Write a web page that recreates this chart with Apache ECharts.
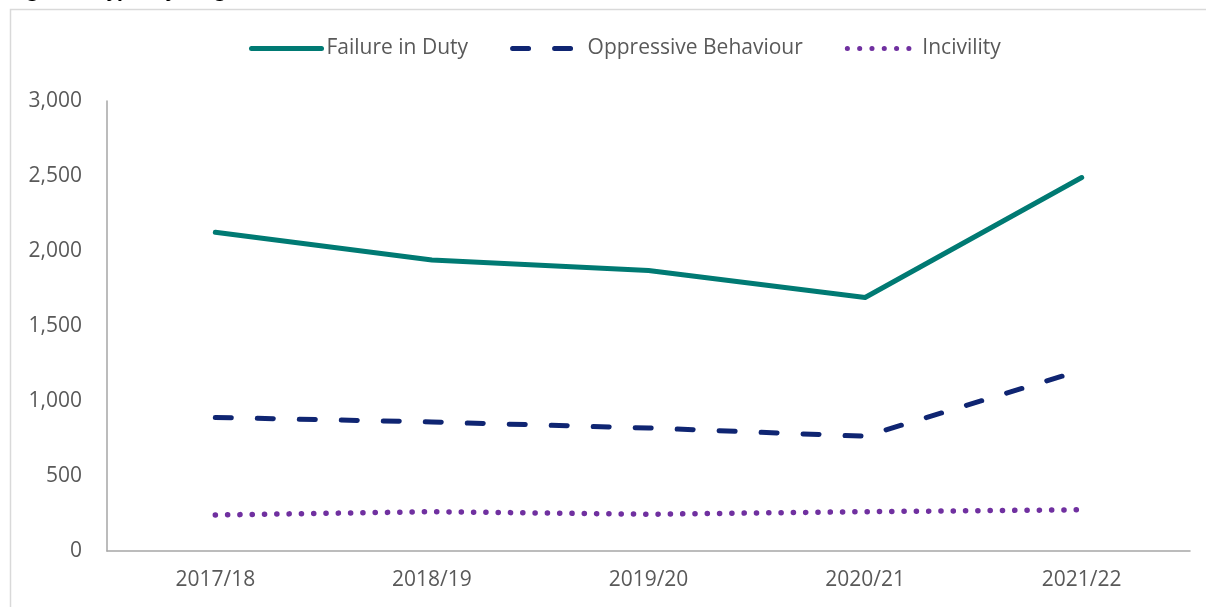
<!DOCTYPE html>
<html>
<head>
<meta charset="utf-8">
<script src="https://cdn.jsdelivr.net/npm/echarts@6/dist/echarts.min.js"></script>
<style>
  html, body { margin: 0; padding: 0; background: #fff; }
  #chart { width: 1206px; height: 607px; }
</style>
</head>
<body>
<div id="chart"></div>
<script>
const categories = ['2017/18', '2018/19', '2019/20', '2020/21', '2021/22'];
const failureInDuty = [2125, 1940, 1870, 1690, 2490];
const oppressiveBehaviour = [890, 860, 820, 765, 1205];
const incivility = [240, 262, 245, 262, 275];
const seriesNames = ['Failure in Duty', 'Oppressive Behaviour', 'Incivility'];
const titleText = 'Figure 4: Types of allegations received, 2017/18 to 2021/22';

const chart = echarts.init(document.getElementById('chart'), null, { renderer: 'canvas' });
const textColor = '#595959';
const fontFamily = '"Open Sans", "Noto Sans", sans-serif';
const fs = 21;

chart.setOption({
  animation: false,
  backgroundColor: '#ffffff',
  graphic: [
    {
      type: 'rect',
      shape: { x: 10.5, y: 9.5, width: 1210, height: 620 },
      style: { fill: 'none', stroke: '#d9d9d9', lineWidth: 1.5 },
      silent: true
    },
    {
      type: 'text',
      x: 12, y: -20,
      style: {
        text: titleText,
        font: 'italic bold 20px ' + fontFamily,
        fill: '#000000',
        verticalAlign: 'top',
        align: 'left'
      },
      silent: true
    }
  ],
  legend: {
    top: 33,
    left: 244,
    itemWidth: 70,
    itemHeight: 16,
    itemGap: 42,
    itemStyle: { opacity: 0 },
    lineStyle: { width: 5, cap: 'round' },
    textStyle: { color: textColor, fontSize: fs, fontFamily: fontFamily },
    data: seriesNames
  },
  grid: { left: 107, right: 16, top: 101, bottom: 56, containLabel: false },
  xAxis: {
    type: 'category',
    data: categories,
    boundaryGap: true,
    axisLine: { show: true, lineStyle: { color: '#a6a6a6', width: 1.5 } },
    axisTick: { show: false },
    axisLabel: { color: textColor, fontSize: fs, fontFamily: fontFamily, margin: 19 },
    splitLine: { show: false }
  },
  yAxis: {
    type: 'value',
    min: 0,
    max: 3000,
    interval: 500,
    axisLine: { show: true, lineStyle: { color: '#a6a6a6', width: 1.5 } },
    axisTick: { show: false },
    splitLine: { show: false },
    axisLabel: {
      color: textColor, fontSize: fs, fontFamily: fontFamily, margin: 25,
      formatter: v => v.toLocaleString('en-GB')
    }
  },
  series: [
    {
      name: seriesNames[0],
      type: 'line',
      data: failureInDuty,
      symbol: 'none',
      color: '#007A73',
      lineStyle: { color: '#007A73', width: 5, cap: 'round', join: 'round' }
    },
    {
      name: seriesNames[1],
      type: 'line',
      data: oppressiveBehaviour,
      symbol: 'none',
      color: '#0F2572',
      lineStyle: { color: '#0F2572', width: 5, type: [16, 26], cap: 'round', join: 'round' }
    },
    {
      name: seriesNames[2],
      type: 'line',
      data: incivility,
      symbol: 'none',
      color: '#7030A0',
      lineStyle: { color: '#7030A0', width: 5.5, type: [0.1, 12.2], cap: 'round', join: 'round' }
    }
  ]
});
</script>
</body>
</html>
